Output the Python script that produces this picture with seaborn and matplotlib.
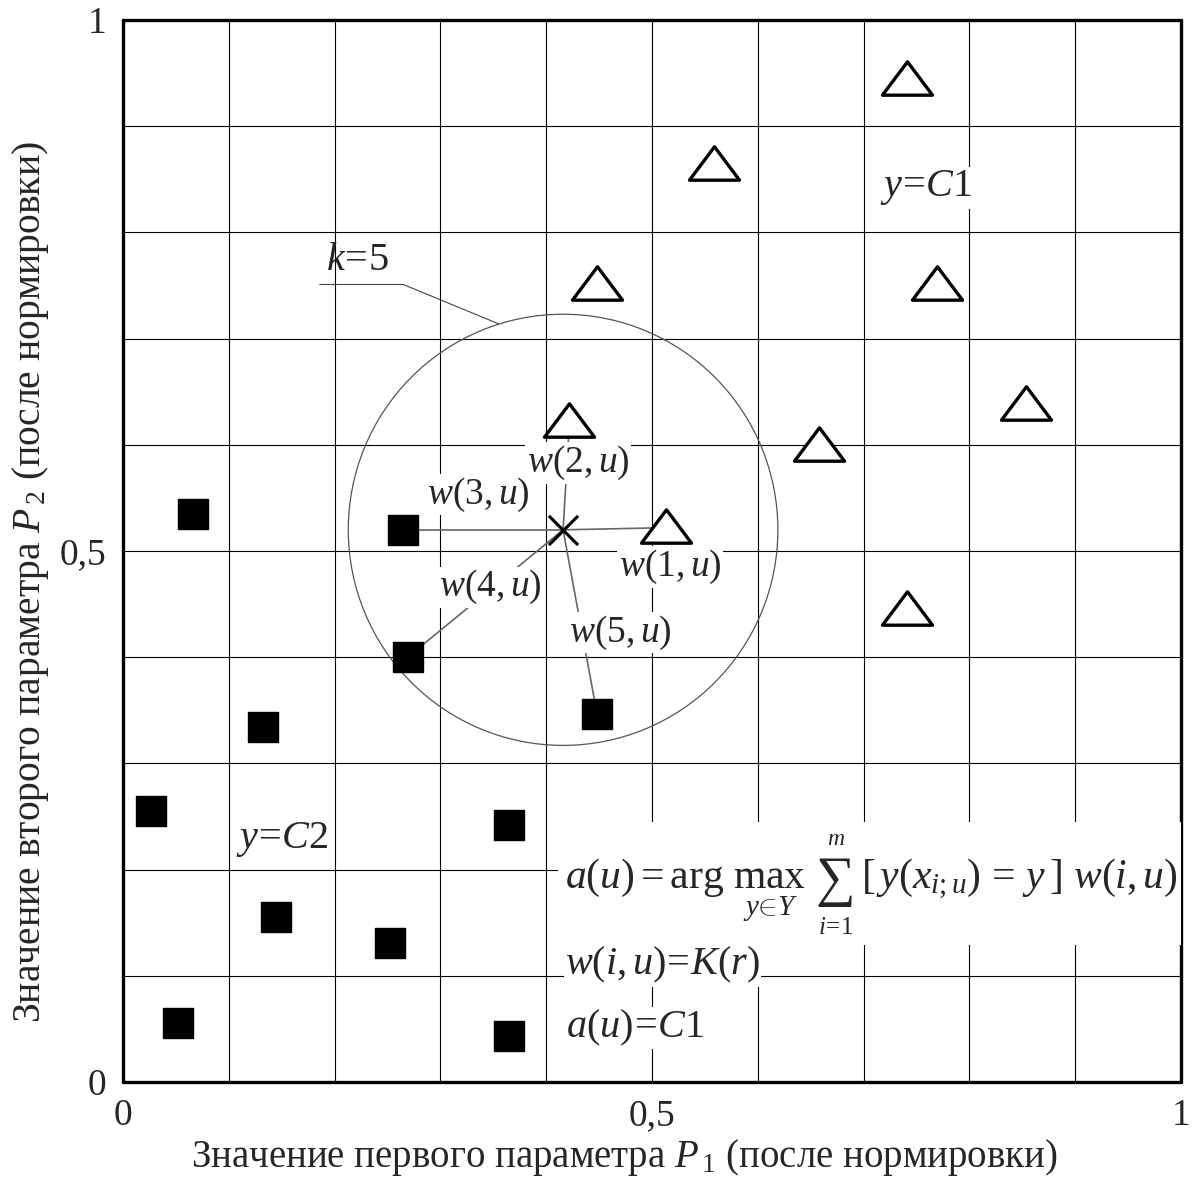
import matplotlib
matplotlib.use('Agg')
import matplotlib.pyplot as plt
import numpy as np
import pandas as pd
import seaborn as sns
from matplotlib.patches import Circle, Rectangle
from matplotlib.path import Path

# class C2 (black squares)
c2_x = [0.066, 0.265, 0.269, 0.132, 0.027, 0.365, 0.145, 0.252, 0.052, 0.365, 0.448]
c2_y = [0.535, 0.520, 0.400, 0.334, 0.255, 0.242, 0.155, 0.131, 0.056, 0.043, 0.347]
# class C1 (open triangles)
c1_x = [0.741, 0.559, 0.448, 0.769, 0.853, 0.422, 0.658, 0.513, 0.741]
c1_y = [0.945, 0.865, 0.752, 0.752, 0.639, 0.623, 0.601, 0.524, 0.446]
# classified object u
u_x, u_y = 0.416, 0.520
k_radius = 0.203

# the 5 nearest neighbours and their label positions
nb_x = [0.513, 0.422, 0.265, 0.269, 0.448]
nb_y = [0.522, 0.621, 0.520, 0.400, 0.347]
nb_lab_x = [0.517, 0.430, 0.336, 0.347, 0.470]
nb_lab_y = [0.485, 0.583, 0.553, 0.466, 0.423]

sns.set_style('white')
plt.rcParams['font.family'] = ['Liberation Serif', 'DejaVu Serif']
plt.rcParams['mathtext.fontset'] = 'custom'
plt.rcParams['mathtext.rm'] = 'Liberation Serif'
plt.rcParams['mathtext.it'] = 'Liberation Serif:italic'
plt.rcParams['mathtext.bf'] = 'Liberation Serif:bold'

fig = plt.figure(figsize=(11.93, 11.80), dpi=100)
ax = fig.add_axes([0.103, 0.083, 0.887, 0.900])

# grid every 0.1, labels only on 0, 0.5, 1
ticks = np.round(np.arange(0, 1.01, 0.1), 1)
ax.set_xticks(ticks)
ax.set_yticks(ticks)
lab = ['0' if t == 0 else '0,5' if t == 0.5 else '1' if t == 1 else '' for t in ticks]
ax.set_xticklabels(lab)
ax.set_yticklabels(lab)
ax.tick_params(length=0, labelsize=27, pad=12)
ax.grid(True, color='black', linewidth=0.8)
ax.set_axisbelow(True)
for s in ax.spines.values():
    s.set_linewidth(2.4)
    s.set_color('black')
    s.set_capstyle('round')

df2 = pd.DataFrame({'x': c2_x, 'y': c2_y})
df1 = pd.DataFrame({'x': c1_x, 'y': c1_y})

tri = Path([(-0.75, -0.5), (0.75, -0.5), (0, 0.5), (-0.75, -0.5)],
           [Path.MOVETO, Path.LINETO, Path.LINETO, Path.CLOSEPOLY])

# neighbour links
for x, y in zip(nb_x, nb_y):
    ax.plot([u_x, x], [u_y, y], color='#666666', linewidth=1.2, zorder=3)

ax.add_patch(Circle((u_x, u_y), k_radius, fill=False, edgecolor='#555555',
                    linewidth=0.9, zorder=3))

sns.scatterplot(data=df2, x='x', y='y', marker='s', s=440, color='black',
                edgecolor='black', linewidth=1, ax=ax, zorder=5)
sns.scatterplot(data=df1, x='x', y='y', marker=tri, s=1300, facecolor='white',
                edgecolor='black', linewidth=2.4, ax=ax, zorder=5)
ax.scatter([u_x], [u_y], marker='x', s=440, color='black', linewidths=2.2, zorder=6)

box = dict(facecolor='white', edgecolor='none', pad=1)
for i, (lx, ly) in enumerate(zip(nb_lab_x, nb_lab_y)):
    ax.text(lx, ly, rf'$w({i + 1},u)$', fontsize=27, ha='center', va='center',
            bbox=box, zorder=4)

# k=5 leader
ax.plot([0.186, 0.265, 0.355], [0.751, 0.751, 0.714], color='#444444', linewidth=0.8, zorder=3)
ax.text(0.222, 0.774, r'$k\!=\!5$', fontsize=29, ha='center', va='center', zorder=4)

ax.text(0.759, 0.842, r'$y\!=\!C1$', fontsize=29, ha='center', va='center', bbox=box, zorder=4)
ax.text(0.151, 0.228, r'$y\!=\!C2$', fontsize=29, ha='center', va='center', bbox=box, zorder=4)

# decision rule
ax.add_patch(Rectangle((0.411, 0.129), 0.589, 0.116, facecolor='white',
                       edgecolor='none', zorder=3))
ax.text(0.418, 0.182, r'$a(u) = \arg\,\max_{y\in Y}$', fontsize=30,
        ha='left', va='baseline', zorder=4)
ax.text(0.673, 0.176, '∑', fontsize=40, ha='center', va='baseline', zorder=4)
ax.text(0.674, 0.228, r'$m$', fontsize=17, ha='center', va='center', zorder=4)
ax.text(0.674, 0.145, r'$i\!=\!1$', fontsize=18, ha='center', va='center', zorder=4)
ax.text(0.698, 0.182, r'$[\,y(x_{i;u})\,=\,y\,]\ w(i,u)$', fontsize=30,
        ha='left', va='baseline', zorder=4)

ax.text(0.418, 0.101, r'$w(i,u)\!=\!K(r)$', fontsize=29, ha='left', va='baseline',
        bbox=box, zorder=4)
ax.text(0.419, 0.042, r'$a(u)\!=\!\mathit{C1}$', fontsize=29, ha='left', va='baseline',
        bbox=box, zorder=4)

ax.set_xlim(0, 1)
ax.set_ylim(0, 1)
ax.set_xlabel(r'Значение первого параметра $P_{\,1}$ (после нормировки)', fontsize=28)
ax.set_ylabel(r'Значение второго параметра $P_{\,2}$ (после нормировки)', fontsize=28.5)
ax.xaxis.set_label_coords(0.474, -0.052)
ax.yaxis.set_label_coords(-0.068, 0.471)

fig.savefig('out.png', dpi=100)
